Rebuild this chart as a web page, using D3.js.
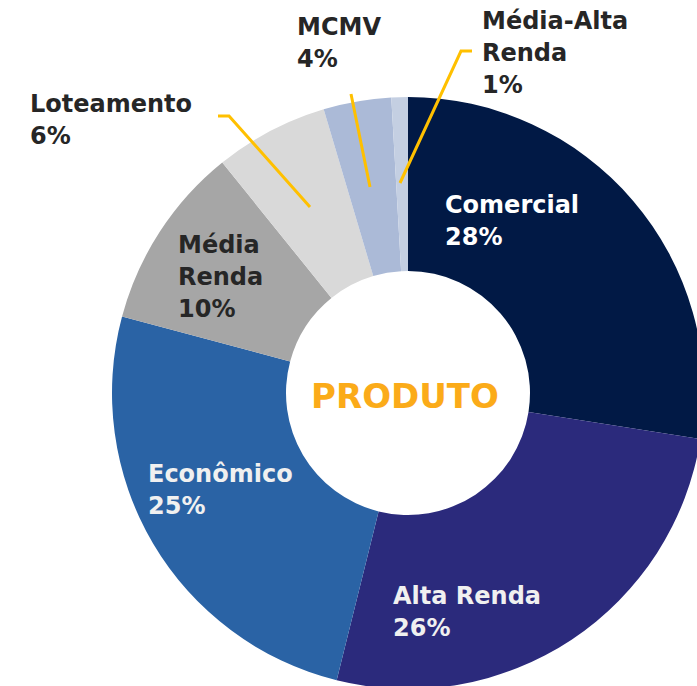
<!DOCTYPE html>
<html lang="pt">
<head>
    <meta charset="UTF-8">
    <title>Produto</title>
    <script src="https://d3js.org/d3.v7.min.js"></script>
    <style>
        body {
            margin: 0;
            background: #fff;
            font-family: "DejaVu Sans", Verdana, sans-serif;
        }
        .label text {
            font-size: 24px;
            font-weight: bold;
        }
    </style>
</head>
<body>
    <svg width="697" height="686"></svg>

    <script>
        // Dados (participação por produto)
        const categories = ["Comercial", "Alta Renda", "Econômico", "Média Renda", "Loteamento", "MCMV", "Média-Alta Renda"];
        const shares = [27.5, 26.4, 25.3, 10.05, 6.2, 3.7, 0.9];
        const pctLabels = ["28%", "26%", "25%", "10%", "6%", "4%", "1%"];
        const labelLines = [["Comercial"], ["Alta Renda"], ["Econômico"], ["Média", "Renda"], ["Loteamento"], ["MCMV"], ["Média-Alta", "Renda"]];

        const colors = ["#011945", "#2b2a7c", "#2a63a5", "#a6a6a6", "#d9d9d9", "#abbad7", "#c4cfe2"];
        const textColors = ["#ffffff", "#f0f0f0", "#f0f0f0", "#262626", "#262626", "#262626", "#262626"];

        // posição do texto (x esquerdo, baseline da 1a linha)
        const labelPos = [[445, 213], [393, 604], [148, 482], [178, 253], [30, 112], [297, 35], [482, 29]];
        // linhas de chamada (índice da fatia -> pontos)
        const leaders = [
            {i: 4, pts: [[218, 116], [229, 116], [310, 207]]},
            {i: 5, pts: [[351, 94], [370, 187]]},
            {i: 6, pts: [[472, 51], [461, 51], [400, 183]]}
        ];

        const svg = d3.select("svg");
        const cx = 408, cy = 393, outerR = 296, innerR = 122;

        const g = svg.append("g").attr("transform", `translate(${cx},${cy})`);

        const pie = d3.pie().sort(null).value(d => d);
        const arc = d3.arc().innerRadius(innerR).outerRadius(outerR);

        g.selectAll("path")
            .data(pie(shares))
            .enter().append("path")
            .attr("d", arc)
            .attr("fill", (d, i) => colors[i]);

        // linhas de chamada
        const line = d3.line();
        svg.selectAll(".leader")
            .data(leaders)
            .enter().append("path")
            .attr("class", "leader")
            .attr("d", d => line(d.pts))
            .attr("fill", "none")
            .attr("stroke", "#ffc000")
            .attr("stroke-width", 3);

        // rótulos
        const lab = svg.append("g").attr("class", "label");
        categories.forEach((c, i) => {
            const t = lab.append("text")
                .attr("x", labelPos[i][0])
                .attr("y", labelPos[i][1])
                .attr("fill", textColors[i]);
            labelLines[i].concat([pctLabels[i]]).forEach((s, k) => {
                t.append("tspan")
                    .attr("x", labelPos[i][0])
                    .attr("dy", k === 0 ? 0 : 32)
                    .text(s);
            });
        });

        // título central
        svg.append("text")
            .attr("x", cx - 3)
            .attr("y", cy + 15)
            .attr("text-anchor", "middle")
            .attr("font-size", "34px")
            .attr("font-weight", "bold")
            .attr("fill", "#fbab19")
            .text("PRODUTO");
    </script>
</body>
</html>
